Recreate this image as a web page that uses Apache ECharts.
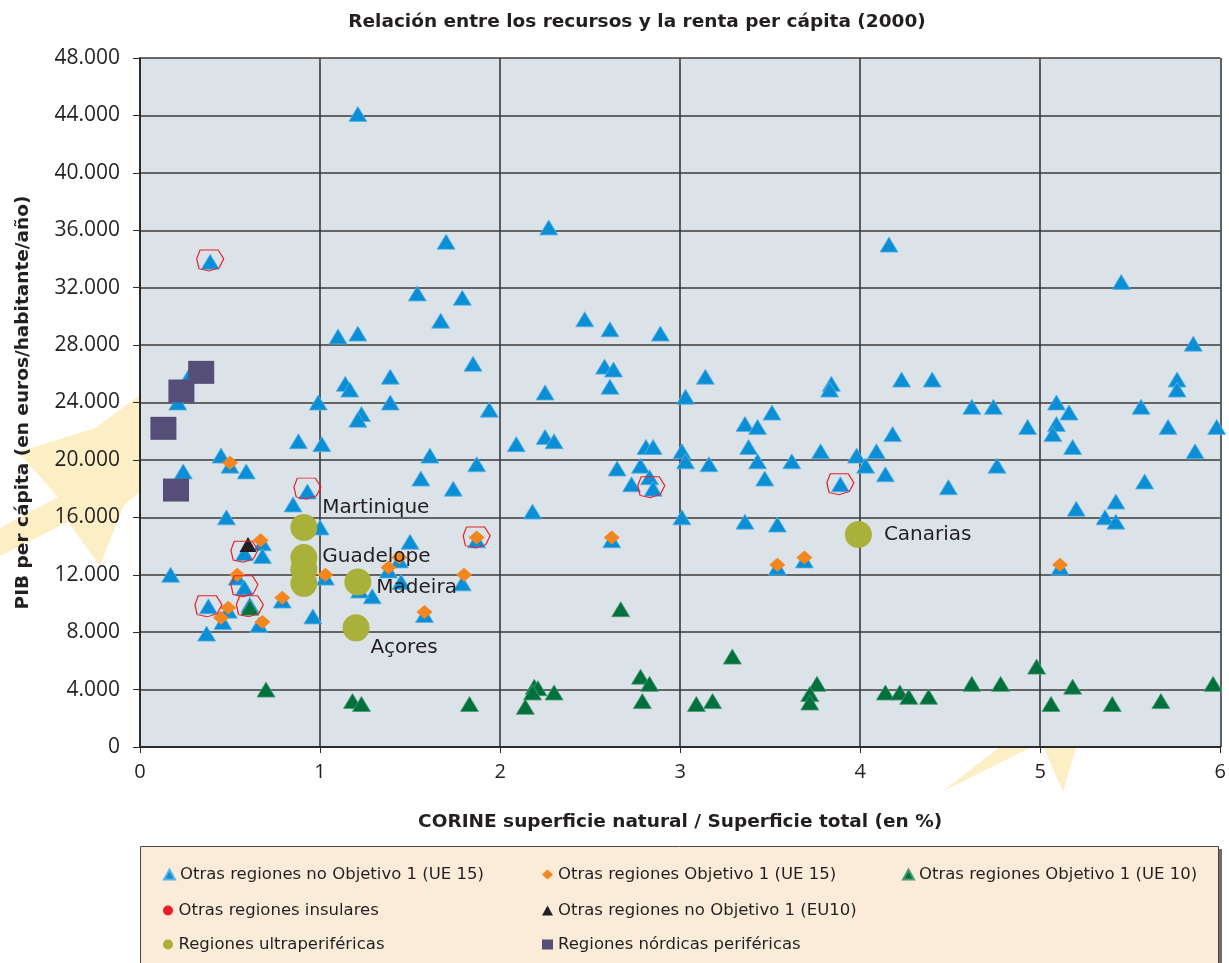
<!DOCTYPE html>
<html>
<head>
<meta charset="utf-8">
<script src="https://cdn.jsdelivr.net/npm/echarts@6/dist/echarts.min.js"></script>
<style>
  html, body { margin: 0; padding: 0; background: #fff; }
  #chart { width: 1229px; height: 963px; }
</style>
</head>
<body>
<div id="chart"></div>
<script>
// [superficie natural %, PIB per cápita]
const otrasNoObj1UE15 = [
  [1.21, 44100], [0.39, 33800], [1.70, 35200], [1.54, 31600], [1.79, 31300],
  [1.67, 29700], [1.10, 28600], [1.21, 28800], [1.85, 26700], [1.14, 25300],
  [1.165, 24900], [1.39, 25800], [0.28, 26000], [0.99, 24000], [1.39, 24000],
  [0.21, 24000], [1.23, 23200], [1.21, 22800], [1.94, 23500], [0.88, 21300],
  [1.01, 21100], [1.61, 20300], [1.87, 19700], [1.56, 18700], [1.74, 18000],
  [2.09, 21100], [2.18, 16400], [0.45, 20300], [0.24, 19200], [0.59, 19200],
  [0.50, 19600], [0.93, 17800], [0.85, 16900], [0.48, 16000], [1.00, 15300],
  [0.68, 14200], [0.68, 13300], [0.58, 13500], [0.54, 11800], [0.58, 11100],
  [0.17, 12000], [0.38, 9800], [0.49, 9500], [0.46, 8700], [0.61, 9900],
  [0.66, 8500], [0.37, 7900], [0.79, 10200], [0.96, 9100], [1.03, 11800],
  [1.44, 13000], [1.38, 12300], [1.45, 11500], [1.29, 10500], [1.22, 10900],
  [1.50, 14300], [1.87, 14400], [1.79, 11400], [1.58, 9200],
  [2.27, 36200], [2.47, 29800], [2.61, 29100], [2.89, 28800], [2.58, 26500],
  [2.63, 26300], [2.61, 25100], [2.25, 24700], [3.03, 24400], [3.14, 25800],
  [3.84, 25300], [3.83, 24900], [3.51, 23300], [3.36, 22500], [3.43, 22300],
  [2.25, 21600], [2.30, 21300], [2.81, 20900], [2.85, 20900], [3.01, 20600],
  [3.03, 19900], [3.16, 19700], [3.38, 20900], [3.43, 19900], [3.62, 19900],
  [3.78, 20600], [3.98, 20300], [4.03, 19600], [4.09, 20600], [3.47, 18700],
  [2.65, 19400], [2.78, 19600], [2.73, 18300], [2.83, 18800], [2.85, 18000],
  [3.89, 18300], [3.01, 16000], [3.36, 15700], [3.54, 15500],
  [4.16, 35000], [5.45, 32400], [5.85, 28100], [4.23, 25600], [4.40, 25600],
  [5.76, 25600], [5.76, 24900], [4.62, 23700], [4.74, 23700], [5.09, 24000],
  [5.16, 23300], [5.56, 23700], [4.93, 22300], [5.09, 22500], [5.07, 21800],
  [5.71, 22300], [5.98, 22300], [5.18, 20900], [5.86, 20600], [4.18, 21800],
  [4.14, 19000], [4.49, 18100], [4.76, 19600], [5.58, 18500], [5.42, 17100],
  [5.20, 16600], [5.36, 16000], [5.42, 15700],
  [2.62, 14400], [3.54, 12500], [3.69, 13000], [5.11, 12500]
];
const otrasObj1UE15 = [
  [0.50, 19800], [0.67, 14400], [0.54, 12000], [0.49, 9700], [0.45, 9000],
  [0.68, 8700], [0.79, 10400], [1.03, 12000], [1.44, 13200], [1.38, 12500],
  [1.87, 14600], [1.80, 12000], [1.58, 9400], [2.62, 14600], [3.54, 12700],
  [3.69, 13200], [5.11, 12700]
];
const otrasObj1UE10 = [
  [0.61, 9700], [0.70, 4000], [1.18, 3200], [1.23, 3000], [1.83, 3000],
  [2.19, 4200], [2.21, 4100], [2.18, 3800], [2.30, 3800], [2.14, 2800],
  [2.67, 9600], [3.29, 6300], [2.78, 4900], [2.83, 4400], [2.79, 3200],
  [3.09, 3000], [3.18, 3200], [3.76, 4400], [3.72, 3700], [3.72, 3100],
  [4.14, 3800], [4.22, 3800], [4.27, 3500], [4.38, 3500], [4.62, 4400],
  [4.78, 4400], [4.98, 5600], [5.06, 3000], [5.18, 4200], [5.40, 3000],
  [5.67, 3200], [5.96, 4400]
];
const otrasNoObj1EU10 = [[0.60, 14100]];
const otrasInsulares = [
  [0.39, 33900], [0.58, 13600], [0.58, 11200], [0.38, 9800], [0.61, 9800],
  [0.93, 18000], [1.87, 14600], [2.84, 18100], [3.89, 18300]
];
const ultraNombres = ['Martinique', 'Guadelope', '', '', 'Madeira', 'Açores', 'Canarias'];
const ultraValores = [
  [0.91, 15300], [0.91, 13200], [0.91, 12400], [0.91, 11400],
  [1.21, 11500], [1.20, 8300], [3.99, 14800]
];
const nordicas = [[0.34, 26100], [0.23, 24800], [0.13, 22200], [0.20, 17900]];

const xTicks = [0, 1, 2, 3, 4, 5, 6];
const yTicks = [0, 4000, 8000, 12000, 16000, 20000, 24000, 28000, 32000, 36000, 40000, 44000, 48000];

const FONT = 'DejaVu Sans';
const NUM_FONT = 'Open Sans';
const TXT = '#231f20';

const names = {
  blue: 'Otras regiones no Objetivo 1 (UE 15)',
  orange: 'Otras regiones Objetivo 1 (UE 15)',
  green: 'Otras regiones Objetivo 1 (UE 10)',
  red: 'Otras regiones insulares',
  black: 'Otras regiones no Objetivo 1 (EU10)',
  olive: 'Regiones ultraperiféricas',
  purple: 'Regiones nórdicas periféricas'
};

// label offsets for the outermost regions
const labelOffset = {
  Martinique: [0, -20], Guadelope: [0, -1], Madeira: [0, 6], 'Açores': [-4, 20], Canarias: [7, 0]
};

const chart = echarts.init(document.getElementById('chart'));

function legendAt(name, left, top, icon, extra) {
  const item = { name: name };
  if (icon) item.icon = icon;
  if (extra) item.itemStyle = extra;
  return {
    data: [item], left: left, top: top, orient: 'vertical',
    itemWidth: 11, itemHeight: 10, selectedMode: false,
    textStyle: { fontFamily: FONT, fontSize: 16.5, color: TXT }
  };
}

const option = {
  animation: false,
  backgroundColor: '#ffffff',
  title: {
    text: 'Relación entre los recursos y la renta per cápita (2000)',
    left: 632, top: 8, textAlign: 'center',
    textStyle: { fontFamily: FONT, fontSize: 18.5, fontWeight: 'bold', color: TXT }
  },
  graphic: [
    // decorative star fragments behind the chart
    { type: 'polygon', z: -1, shape: { points: [[140, 395], [95, 428], [18, 452], [58, 497], [0, 528], [0, 556], [68, 522], [100, 566], [124, 505], [140, 492]] }, style: { fill: '#fcefc6' } },
    { type: 'polygon', z: -1, shape: { points: [[998, 748], [1030, 748], [942, 792]] }, style: { fill: '#fcefc6' } },
    { type: 'polygon', z: -1, shape: { points: [[1044, 748], [1076, 748], [1063, 792]] }, style: { fill: '#fcefc6' } },
    // legend box
    { type: 'rect', z: -1, shape: { x: 1215, y: 849, width: 7, height: 120 }, style: { fill: '#6d6d6d' } },
    { type: 'rect', z: -1, shape: { x: 140.5, y: 846.5, width: 1078, height: 130 }, style: { fill: '#faecd8', stroke: '#4a4a4a', lineWidth: 1 } }
  ],
  legend: [
    legendAt(names.blue, 158, 861),
    legendAt(names.red, 158, 897, 'circle', { color: '#e8202a', borderWidth: 0 }),
    legendAt(names.olive, 158, 931, 'circle'),
    legendAt(names.orange, 537, 861),
    legendAt(names.black, 537, 897),
    legendAt(names.purple, 537, 931, 'rect'),
    legendAt(names.green, 897, 861)
  ],
  grid: {
    left: 140, top: 58, width: 1082, height: 689,
    show: true, backgroundColor: '#dbe2e8', borderWidth: 0
  },
  xAxis: {
    type: 'value', min: xTicks[0], max: xTicks[xTicks.length - 1], interval: 1,
    name: 'CORINE superficie natural / Superficie total (en %)',
    nameLocation: 'middle', nameGap: 66,
    nameTextStyle: { fontFamily: FONT, fontSize: 18.5, fontWeight: 'bold', color: TXT },
    axisLine: { show: true, onZero: false, lineStyle: { color: '#2b2b2b', width: 2 } },
    axisTick: { show: true, length: 6, lineStyle: { color: '#2b2b2b' } },
    axisLabel: { fontFamily: NUM_FONT, fontSize: 20, color: TXT, margin: 15 },
    splitLine: { show: true, lineStyle: { color: '#3a3a3a', width: 1.6 } }
  },
  yAxis: {
    type: 'value', min: yTicks[0], max: yTicks[yTicks.length - 1], interval: 4000,
    name: 'PIB per cápita (en euros/habitante/año)',
    nameLocation: 'middle', nameGap: 107,
    nameTextStyle: { fontFamily: FONT, fontSize: 18.5, fontWeight: 'bold', color: TXT },
    axisLine: { show: true, lineStyle: { color: '#2b2b2b', width: 2 } },
    axisTick: { show: true, length: 7, lineStyle: { color: '#2b2b2b' } },
    axisLabel: {
      fontFamily: NUM_FONT, fontSize: 21, color: TXT, margin: 20,
      formatter: function (v) { return v === 0 ? '0' : (v / 1000) + '.000'; }
    },
    splitLine: { show: true, lineStyle: { color: '#3a3a3a', width: 1.6 } }
  },
  series: [
    {
      name: names.blue, type: 'scatter', data: otrasNoObj1UE15,
      symbol: 'triangle', symbolSize: [18, 15],
      itemStyle: { color: '#0a8fd6', borderColor: '#57b3e6', borderWidth: 0.8, opacity: 1 }
    },
    {
      name: names.orange, type: 'scatter', data: otrasObj1UE15,
      symbol: 'diamond', symbolSize: [16, 14],
      itemStyle: { color: '#f3861f', opacity: 1 }
    },
    {
      name: names.green, type: 'scatter', data: otrasObj1UE10,
      symbol: 'triangle', symbolSize: [18, 15],
      itemStyle: { color: '#00703c', borderColor: '#4c9a73', borderWidth: 0.8, opacity: 1 }
    },
    {
      name: names.black, type: 'scatter', data: otrasNoObj1EU10,
      symbol: 'triangle', symbolSize: [17, 15],
      itemStyle: { color: '#231f20', opacity: 1 }
    },
    {
      name: names.red, type: 'scatter', data: otrasInsulares,
      symbol: 'path://M3,0 L19,0 L24,8 L20,16 L11,19 L2,17 L0,8 Z', symbolSize: [27, 21],
      itemStyle: { color: 'rgba(0,0,0,0)', borderColor: '#e8202a', borderWidth: 1.1, opacity: 1 }
    },
    {
      name: names.olive, type: 'scatter',
      data: ultraValores.map(function (v, i) {
        const n = ultraNombres[i];
        const d = { name: n, value: v };
        if (labelOffset[n]) d.label = { offset: labelOffset[n] };
        return d;
      }),
      symbol: 'circle', symbolSize: 27,
      itemStyle: { color: '#a9b13a', opacity: 1 },
      label: {
        show: true, position: 'right', distance: 5,
        formatter: '{b}', fontFamily: FONT, fontSize: 20, color: TXT
      },
      z: 5
    },
    {
      name: names.purple, type: 'scatter', data: nordicas,
      symbol: 'rect', symbolSize: [26, 23],
      itemStyle: { color: '#554e78', opacity: 1 },
      z: 6
    }
  ]
};

chart.setOption(option);
window.addEventListener('resize', function () {
  chart.resize();
});
</script>
</body>
</html>
